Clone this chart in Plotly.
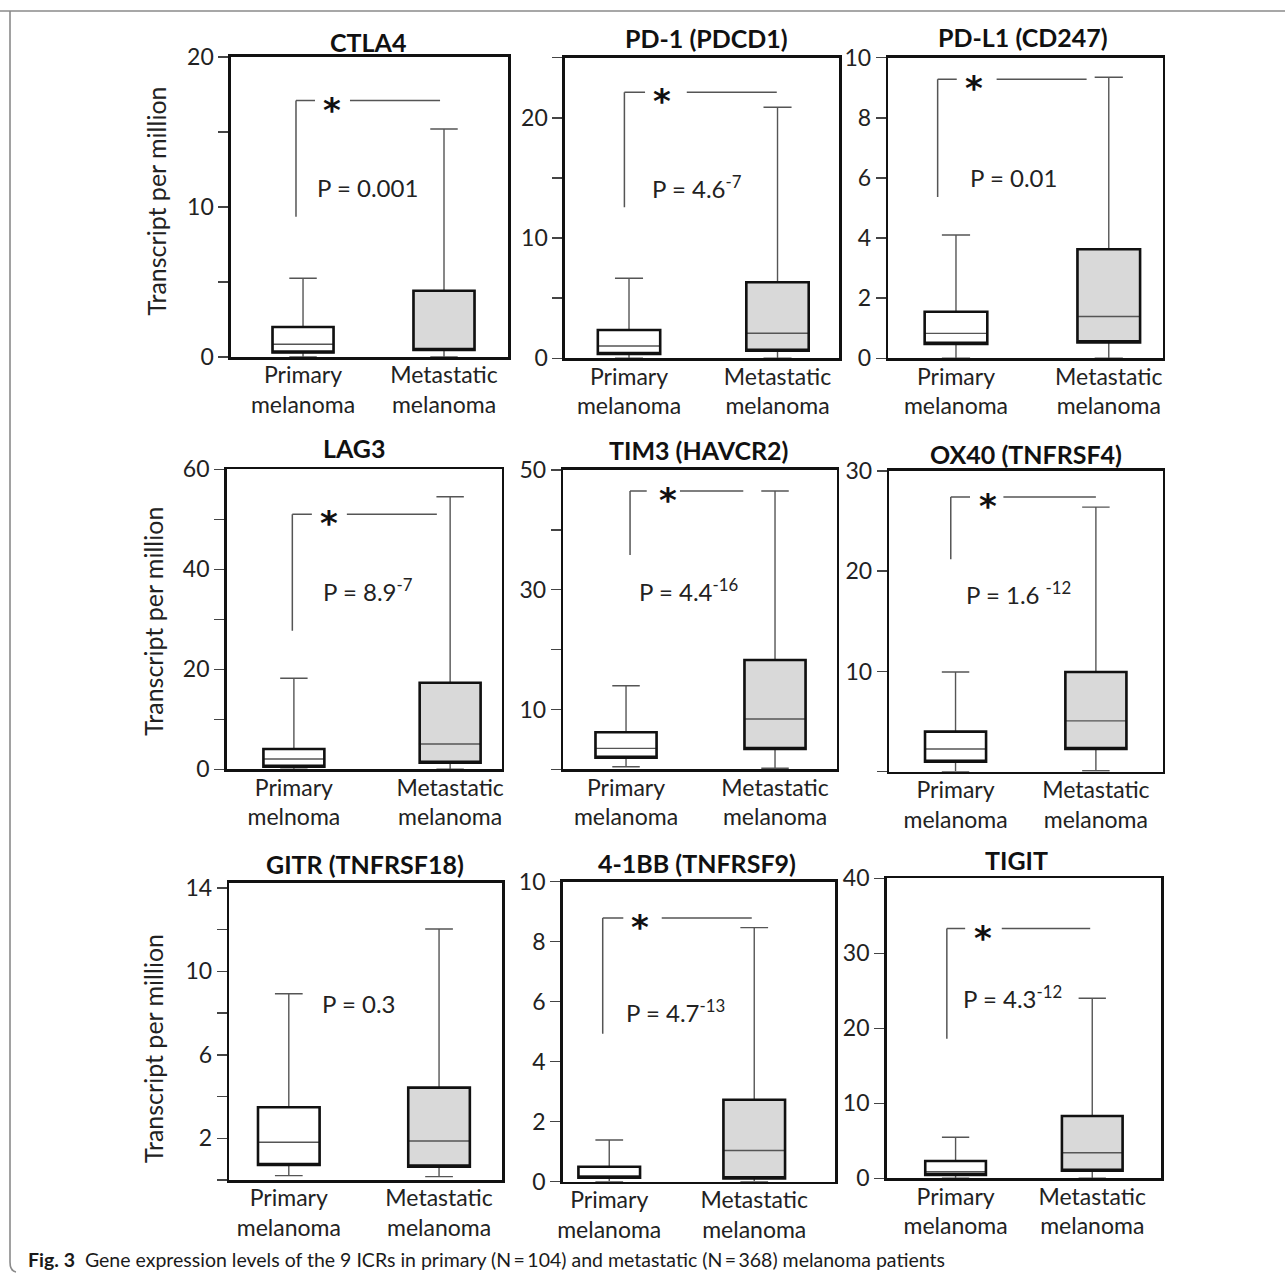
import plotly.graph_objects as go
from plotly.subplots import make_subplots

W, H = 1285, 1274

# ---------------- data ----------------
genes = ["CTLA4", "PD-1 (PDCD1)", "PD-L1 (CD247)",
         "LAG3", "TIM3 (HAVCR2)", "OX40 (TNFRSF4)",
         "GITR (TNFRSF18)", "4-1BB (TNFRSF9)", "TIGIT"]
primary_labels = ["Primary<br>melanoma", "Primary<br>melanoma", "Primary<br>melanoma",
                  "Primary<br>melnoma", "Primary<br>melanoma", "Primary<br>melanoma",
                  "Primary<br>melanoma", "Primary<br>melanoma", "Primary<br>melanoma"]
metastatic_label = "Metastatic<br>melanoma"

prim_q1 = [0.30, 0.36, 0.48, 0.5, 1.94, 1.0, 0.72, 0.13, 0.44]
prim_med = [0.85, 1.02, 0.83, 2.06, 3.5, 2.27, 1.81, 0.18, 0.88]
prim_q3 = [2.0, 2.35, 1.55, 4.06, 6.2, 4.0, 3.49, 0.5, 2.3]
prim_lo = [0, 0, 0, 0, 0.43, 0, 0.21, 0, 0]
prim_hi = [5.25, 6.66, 4.1, 18.2, 13.96, 9.94, 8.93, 1.39, 5.47]

met_q1 = [0.47, 0.63, 0.53, 1.3, 3.39, 2.27, 0.64, 0.11, 1.0]
met_med = [0.5, 2.08, 1.39, 5.06, 8.4, 5.07, 1.87, 1.04, 3.4]
met_q3 = [4.42, 6.32, 3.63, 17.3, 18.25, 9.94, 4.43, 2.73, 8.3]
met_lo = [0, 0, 0, 0, 0.17, 0.1, 0.16, 0, 0]
met_hi = [15.2, 20.88, 9.35, 54.5, 46.5, 26.4, 12.03, 8.47, 24.0]

y_max = [20, 25, 10, 60, 50, 30, 14.25, 10, 40]
major_ticks = [[0, 10, 20], [0, 10, 20], [0, 2, 4, 6, 8, 10],
               [0, 20, 40, 60], [10, 30, 50], [10, 20, 30],
               [2, 6, 10, 14], [0, 2, 4, 6, 8, 10], [0, 10, 20, 30, 40]]
minor_ticks = [[5, 15], [5, 15, 25], [],
               [10, 30, 50], [0, 20, 40], [0],
               [0, 4, 8, 12], [], []]

p_text = ["P = 0.001", "P = 4.6<sup>-7</sup>", "P = 0.01",
          "P = 8.9<sup>-7</sup>", "P = 4.4<sup>-16</sup>", "P = 1.6 <sup>-12</sup>",
          "P = 0.3", "P = 4.7<sup>-13</sup>", "P = 4.3<sup>-12</sup>"]
p_y = [11.3, 14.28, 6.0, 35.9, 30.0, 17.8, 8.48, 5.69, 24.2]
sig_bottom = [9.35, 12.56, 5.37, 27.7, 35.8, 21.2, None, 4.93, 18.6]
sig_top = [17.1, 22.13, 9.28, 51.0, 46.5, 27.4, None, 8.79, 33.3]

caption = ("<b>Fig. 3</b>  Gene expression levels of the 9 ICRs in primary (N\u2009=\u2009104) "
           "and metastatic (N\u2009=\u2009368) melanoma patients")

# ---------------- layout / style ----------------
FONT = "Lato"
TXT = "#222222"
# plot-area pixel boxes: left, right, top, bottom
px_box = [(231, 508, 57, 357), (565, 839.3, 57.7, 358.3), (888.3, 1162.7, 57.7, 358.3),
          (226.7, 501.7, 469.3, 769.3), (563.3, 836.7, 470, 769.3), (889.3, 1162.7, 471, 771.7),
          (229.3, 502.3, 882.7, 1180), (562.7, 835, 881.7, 1181.7), (886.7, 1161, 878.3, 1178.3)]
x_range = [[-0.511, 1.454], [-0.431, 1.416], [-0.443, 1.353], [-0.43, 1.33], [-0.421, 1.414],
           [-0.472, 1.476], [-0.396, 1.421], [-0.321, 1.557], [-0.504, 1.503]]
box_w = [0.433, 0.42, 0.41, 0.39, 0.41, 0.435, 0.41, 0.425, 0.444]
# bracket x: vertical, end of first segment, star, second segment start, end
bracket_x = [(-0.05, 0.085, 0.206, 0.333, 0.972), (-0.031, 0.108, 0.22, 0.389, 0.995),
             (-0.12, 0.005, 0.12, 0.266, 0.855), (-0.01, 0.115, 0.227, 0.339, 0.915),
             (0.027, 0.139, 0.28, 0.362, 0.787), (-0.034, 0.103, 0.234, 0.341, 1.0),
             None, (-0.045, 0.097, 0.212, 0.362, 0.983), (-0.064, 0.07, 0.2, 0.338, 0.985)]
p_x = [0.46, 0.456, 0.375, 0.477, 0.418, 0.448, 0.463, 0.454, 0.419]
title_px = [(368, 42), (706.7, 38.3), (1023.3, 36.7), (354, 448.3), (698.3, 450),
            (1025.7, 454.3), (365, 864.3), (696.7, 863.3), (1016.7, 860)]
ylab_px = [(155, 201.5), (153, 621.7), (153, 1049)]


def fx(px):
    return px / W


def fy(py):
    return 1 - py / H


fig = make_subplots(rows=3, cols=3)
annotations = []
shapes = []

for i in range(9):
    r, c = divmod(i, 3)
    xa = "x" if i == 0 else f"x{i+1}"
    ya = "y" if i == 0 else f"y{i+1}"
    groups = [
        (0, prim_q1[i], prim_med[i], prim_q3[i], prim_lo[i], prim_hi[i], "white"),
        (1, met_q1[i], met_med[i], met_q3[i], met_lo[i], met_hi[i], "#d9d9d9"),
    ]
    for pos, q1, med, q3, lo, hi, fill in groups:
        # whiskers + median (thin)
        fig.add_trace(go.Box(x=[pos], q1=[q1], median=[med], q3=[q3],
                             lowerfence=[lo], upperfence=[hi],
                             fillcolor=fill, line=dict(color="#555555", width=1.4),
                             width=box_w[i], whiskerwidth=0.45, boxpoints=False,
                             showlegend=False, hoverinfo="skip"),
                      row=r + 1, col=c + 1)
        # box outline (thick)
        fig.add_trace(go.Box(x=[pos], q1=[q1], median=[q1], q3=[q3],
                             lowerfence=[q1], upperfence=[q3],
                             fillcolor="rgba(0,0,0,0)", line=dict(color="#111111", width=2.6),
                             width=box_w[i], whiskerwidth=0, boxpoints=False,
                             showlegend=False, hoverinfo="skip"),
                      row=r + 1, col=c + 1)

    L, R, T, B = px_box[i]
    xkey = "xaxis" if i == 0 else f"xaxis{i+1}"
    ykey = "yaxis" if i == 0 else f"yaxis{i+1}"
    fig.layout[xkey].update(
        domain=[fx(L), fx(R)], range=x_range[i], tickmode="array", tickvals=[0, 1],
        ticktext=[primary_labels[i], metastatic_label], ticks="", showgrid=False,
        zeroline=False, showline=True, mirror=True, linecolor="#111111", linewidth=2.6,
        tickfont=dict(family=FONT, size=23, color=TXT), ticklabelstandoff=-4,
        fixedrange=True, automargin=False)
    ymajor = [str(v) for v in major_ticks[i]]
    yaxis_cfg = dict(
        domain=[fy(B), fy(T)], range=[0, y_max[i]], tickmode="array",
        tickvals=major_ticks[i], ticktext=ymajor,
        ticks="outside", ticklen=10, tickwidth=1.5, tickcolor="#444444",
        showgrid=False, zeroline=False, showline=True, mirror=True, linecolor="#111111",
        linewidth=2.6, tickfont=dict(family=FONT, size=23, color=TXT), fixedrange=True,
        automargin=False)
    if minor_ticks[i]:
        yaxis_cfg["minor"] = dict(tickmode="array", tickvals=minor_ticks[i], ticks="outside",
                                  ticklen=10, tickwidth=1.5, tickcolor="#444444",
                                  showgrid=False)
    fig.layout[ykey].update(**yaxis_cfg)

    # title
    tx, ty = title_px[i]
    annotations.append(dict(x=fx(tx), y=fy(ty), xref="paper", yref="paper",
                            text=f"<b>{genes[i]}</b>", showarrow=False, xanchor="center",
                            yanchor="middle", font=dict(family=FONT, size=25, color="#111111")))
    # p-value
    annotations.append(dict(x=p_x[i], y=p_y[i], xref=xa, yref=ya, text=p_text[i],
                            showarrow=False, xanchor="center", yanchor="middle",
                            font=dict(family=FONT, size=24, color=TXT)))
    # significance bracket
    if sig_top[i] is not None:
        v, h1, st, h2a, h2b = bracket_x[i]
        lc = dict(color="#555555", width=1.5)
        shapes.append(dict(type="line", xref=xa, yref=ya, x0=v, x1=v,
                           y0=sig_bottom[i], y1=sig_top[i], line=lc))
        shapes.append(dict(type="line", xref=xa, yref=ya, x0=v, x1=h1,
                           y0=sig_top[i], y1=sig_top[i], line=lc))
        shapes.append(dict(type="line", xref=xa, yref=ya, x0=h2a, x1=h2b,
                           y0=sig_top[i], y1=sig_top[i], line=lc))
        annotations.append(dict(x=st, y=sig_top[i], xref=xa, yref=ya, text="<b>*</b>",
                                showarrow=False, xanchor="center", yanchor="middle", yshift=-9,
                                font=dict(family="DejaVu Sans", size=34, color="#111111")))

# y-axis titles (left column)
for (lx, ly) in ylab_px:
    annotations.append(dict(x=fx(lx), y=fy(ly), xref="paper", yref="paper",
                            text="Transcript per million", textangle=-90, showarrow=False,
                            xanchor="center", yanchor="middle",
                            font=dict(family=FONT, size=25, color=TXT)))

# caption
annotations.append(dict(x=fx(26), y=fy(1259), xref="paper", yref="paper", text=caption,
                        showarrow=False, xanchor="left", yanchor="middle",
                        font=dict(family=FONT, size=19.5, color="#1a1a1a")))

# page frame
frame = dict(color="#8a8a8a", width=1.6)
shapes.append(dict(type="line", xref="paper", yref="paper", x0=0, x1=1,
                   y0=fy(11), y1=fy(11), line=frame))
shapes.append(dict(type="path", xref="paper", yref="paper",
                   path=f"M {fx(10)},{fy(11)} L {fx(10)},{fy(1262)} "
                        f"Q {fx(10)},{fy(1271)} {fx(16)},{fy(1272)}",
                   line=frame))

fig.update_layout(width=W, height=H,
                  margin=dict(l=0, r=0, t=0, b=0, pad=0, autoexpand=False),
                  paper_bgcolor="white", plot_bgcolor="white", boxmode="overlay",
                  annotations=annotations, shapes=shapes, showlegend=False,
                  font=dict(family=FONT, color=TXT))

fig.write_html("out.html", include_plotlyjs=True, full_html=True,
               config={"displayModeBar": False, "staticPlot": True},
               post_script="document.body.style.margin='0';document.body.style.overflow='hidden';")
